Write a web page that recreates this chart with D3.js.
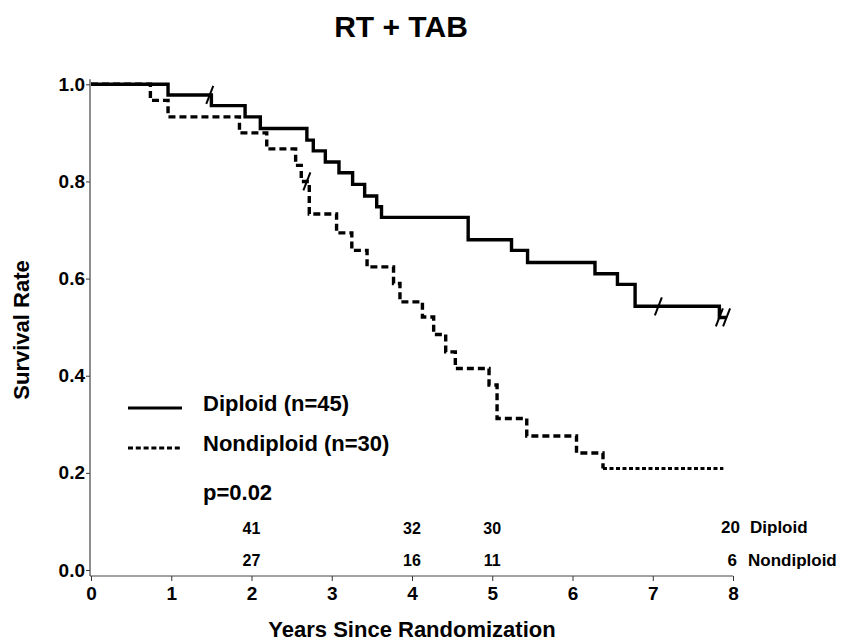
<!DOCTYPE html>
<html>
<head>
<meta charset="utf-8">
<script src="https://cdn.jsdelivr.net/npm/d3@7"></script>
<style>
  body { margin: 0; background: #fff; }
  svg { display: block; font-family: "Liberation Sans", Arial, sans-serif; font-weight: bold; }
</style>
</head>
<body>
<svg class="chart" width="847" height="644"></svg>
<script>
// Kaplan-Meier steps (time in years, survival after the step)
var diploidTimes = [0, 0.96, 1.50, 1.92, 2.11, 2.69, 2.77, 2.92, 3.09, 3.26, 3.41, 3.56, 3.62, 4.70, 5.24, 5.44, 6.28, 6.56, 6.78, 7.83];
var diploidSurv  = [1.0, 0.978, 0.956, 0.933, 0.909, 0.885, 0.863, 0.840, 0.818, 0.794, 0.770, 0.748, 0.726, 0.680, 0.658, 0.633, 0.610, 0.588, 0.543, 0.520];
var diploidEnd = 7.92;
var diploidCensor = [1.48, 7.07, 7.83, 7.92];

var nonTimes = [0, 0.74, 0.96, 1.85, 2.19, 2.55, 2.62, 2.72, 3.06, 3.25, 3.44, 3.77, 3.85, 4.13, 4.27, 4.42, 4.54, 4.96, 5.06, 5.43, 6.05, 6.38];
var nonSurv  = [1.0, 0.967, 0.933, 0.900, 0.867, 0.833, 0.800, 0.733, 0.694, 0.658, 0.624, 0.590, 0.552, 0.521, 0.485, 0.449, 0.415, 0.381, 0.312, 0.276, 0.241, 0.209];
var nonEnd = 7.88;
var nonCensor = [2.69];

// numbers at risk
var riskYears = [2, 4, 5, 8];
var riskDiploid = [41, 32, 30, 20];
var riskNon = [27, 16, 11, 6];

var xTicks = [0, 1, 2, 3, 4, 5, 6, 7, 8];
var yTicks = [0, 0.2, 0.4, 0.6, 0.8, 1.0];

var x = d3.scaleLinear().domain([0, 8]).range([91, 733]);
var y = d3.scaleLinear().domain([0, 1]).range([570, 84.3]);
var axisY = 576;

var svg = d3.select('.chart');

// title
svg.append('text')
  .attr('x', 401).attr('y', 37)
  .attr('text-anchor', 'middle')
  .style('font-size', '30px')
  .text('RT + TAB');

// axes
var xAxis = d3.axisBottom(x).tickValues(xTicks).tickSize(5).tickPadding(6).tickFormat(d3.format('d'));
var gx = svg.append('g')
  .attr('transform', 'translate(0,' + axisY + ')')
  .call(xAxis);
gx.select('.domain').remove();
gx.selectAll('text').style('font-size', '19px').style('font-family', null).attr('fill', '#000');
gx.selectAll('line').attr('stroke', '#333');

var yAxis = d3.axisLeft(y).tickValues(yTicks).tickSize(4).tickPadding(1).tickFormat(d3.format('.1f'));
var gy = svg.append('g')
  .attr('transform', 'translate(90,0)')
  .call(yAxis);
gy.select('.domain').remove();
gy.selectAll('text').style('font-size', '19px').style('font-family', null).attr('fill', '#000');
gy.selectAll('line').attr('stroke', '#333');

svg.append('line')
  .attr('x1', 90).attr('x2', 90)
  .attr('y1', y(1) - 5).attr('y2', axisY)
  .attr('stroke', '#444').attr('stroke-width', 1.2);
svg.append('line')
  .attr('x1', 90).attr('x2', x(8))
  .attr('y1', axisY).attr('y2', axisY)
  .attr('stroke', '#444').attr('stroke-width', 1.2);

// axis titles
svg.append('text')
  .attr('x', 412).attr('y', 637)
  .attr('text-anchor', 'middle')
  .style('font-size', '22px')
  .text('Years Since Randomization');

svg.append('text')
  .attr('transform', 'translate(29,330) rotate(-90)')
  .attr('text-anchor', 'middle')
  .style('font-size', '22px')
  .text('Survival Rate');

// curves
function stepPoints(times, surv, end) {
  var pts = times.map((t, i) => [t, surv[i]]);
  pts.push([end, surv[surv.length - 1]]);
  return pts;
}
function survAt(times, surv, t) {
  var s = surv[0];
  times.forEach((tt, i) => { if (tt <= t) s = surv[i]; });
  return s;
}

var line = d3.line()
  .x(d => x(d[0]))
  .y(d => y(d[1]))
  .curve(d3.curveStepAfter);

var dipPts = stepPoints(diploidTimes, diploidSurv, diploidEnd);
svg.append('path')
  .datum(dipPts)
  .attr('d', line)
  .attr('fill', 'none')
  .attr('stroke', '#000')
  .attr('stroke-width', 3.4);

var nonPts = stepPoints(nonTimes, nonSurv, nonEnd);
var lastStep = nonPts.length - 2;
svg.append('path')
  .datum(nonPts.slice(0, lastStep + 1))
  .attr('d', line)
  .attr('fill', 'none')
  .attr('stroke', '#000')
  .attr('stroke-width', 3.4)
  .attr('stroke-dasharray', '7,4');
svg.append('path')
  .datum(nonPts.slice(lastStep))
  .attr('d', line)
  .attr('fill', 'none')
  .attr('stroke', '#000')
  .attr('stroke-width', 3)
  .attr('stroke-dasharray', '4,2.5');

// censor marks
function censorMarks(list, times, surv) {
  svg.selectAll(null)
    .data(list)
    .enter().append('line')
    .attr('x1', d => x(d) - 3.5)
    .attr('x2', d => x(d) + 3.5)
    .attr('y1', d => y(survAt(times, surv, d)) + 9)
    .attr('y2', d => y(survAt(times, surv, d)) - 9)
    .attr('stroke', '#000')
    .attr('stroke-width', 2);
}
censorMarks(diploidCensor, diploidTimes, diploidSurv);
censorMarks(nonCensor, nonTimes, nonSurv);

// legend
svg.append('line')
  .attr('x1', 128).attr('x2', 182).attr('y1', 408).attr('y2', 408)
  .attr('stroke', '#000').attr('stroke-width', 3.2);
svg.append('text')
  .attr('x', 203).attr('y', 411)
  .style('font-size', '22px')
  .text('Diploid (n=45)');

svg.append('line')
  .attr('x1', 128).attr('x2', 182).attr('y1', 448).attr('y2', 448)
  .attr('stroke', '#000').attr('stroke-width', 3.2)
  .attr('stroke-dasharray', '5,2.8');
svg.append('text')
  .attr('x', 203).attr('y', 451)
  .style('font-size', '22px')
  .text('Nondiploid (n=30)');

svg.append('text')
  .attr('x', 203).attr('y', 500)
  .style('font-size', '22px')
  .text('p=0.02');

// numbers at risk
var mid = riskYears.slice(0, 3);
svg.selectAll(null)
  .data(mid)
  .enter().append('text')
  .attr('x', d => x(d))
  .attr('y', 534)
  .attr('text-anchor', 'middle')
  .style('font-size', '16px')
  .text((d, i) => riskDiploid[i]);
svg.selectAll(null)
  .data(mid)
  .enter().append('text')
  .attr('x', d => x(d))
  .attr('y', 566)
  .attr('text-anchor', 'middle')
  .style('font-size', '16px')
  .text((d, i) => riskNon[i]);

var last = riskYears.length - 1;
svg.append('text')
  .attr('x', x(riskYears[last]) + 7).attr('y', 533)
  .attr('text-anchor', 'end')
  .style('font-size', '17px')
  .text(riskDiploid[last]);
svg.append('text')
  .attr('x', x(riskYears[last]) + 17).attr('y', 533)
  .style('font-size', '17px')
  .text('Diploid');
svg.append('text')
  .attr('x', x(riskYears[last]) + 4).attr('y', 566)
  .attr('text-anchor', 'end')
  .style('font-size', '17px')
  .text(riskNon[last]);
svg.append('text')
  .attr('x', x(riskYears[last]) + 15).attr('y', 566)
  .style('font-size', '17px')
  .text('Nondiploid');
</script>
</body>
</html>
